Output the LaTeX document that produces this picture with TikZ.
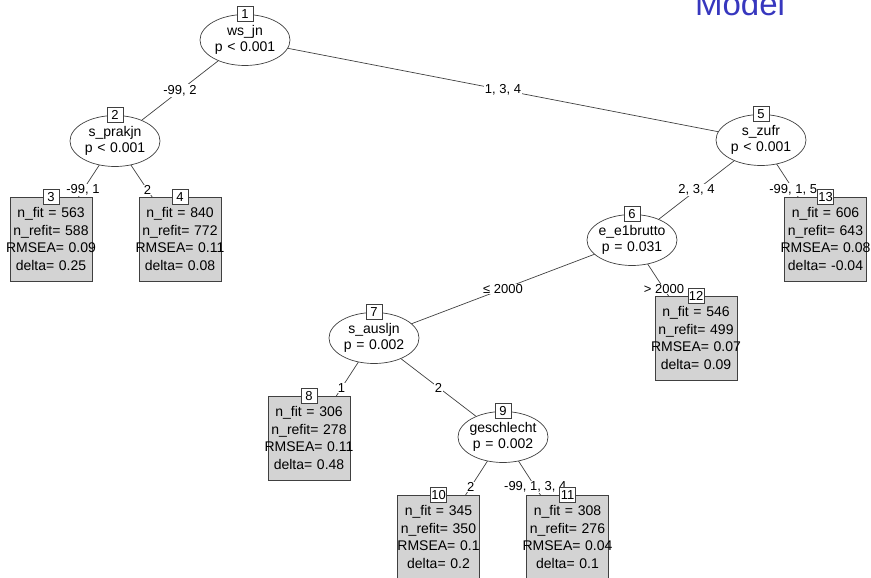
\documentclass[tikz,border=0pt]{standalone}
\usepackage{fontspec}
\setmainfont{Liberation Sans}
\usetikzlibrary{shapes.geometric}
\pgfdeclarelayer{bg}\pgfdeclarelayer{fg}\pgfsetlayers{bg,main,fg}
\definecolor{edgec}{HTML}{404040}
\definecolor{leaffill}{HTML}{D3D3D3}
\definecolor{modelblue}{RGB}{55,55,190}
\newcommand\mbx[1]{\makebox[0pt]{#1}}
\begin{document}
\begin{tikzpicture}[x=1pt,y=-1pt,
 inner/.style={ellipse,draw=edgec,fill=white,line width=0.7pt,minimum width=90pt,minimum height=51pt,inner sep=0pt,text width=1pt,align=center,font=\fontsize{14}{16}\selectfont},
 leaf/.style={rectangle,draw=edgec,fill=leaffill,line width=0.7pt,minimum width=82pt,minimum height=84pt,inner sep=0pt,text width=82pt,align=center,font=\fontsize{14}{17.5}\selectfont},
 idbox/.style={rectangle,draw=edgec,fill=white,line width=0.7pt,minimum width=16pt,minimum height=15pt,inner sep=0pt,font=\fontsize{13}{13}\selectfont},
 edge/.style={draw=edgec,line width=0.7pt},
 elab/.style={fill=white,inner sep=0.8pt,font=\fontsize{13}{13}\selectfont}]
\useasboundingbox (0,0) rectangle (871,578);

% inner nodes
\node[inner] (n1) at (245,40) {\mbx{ws\_jn}\\\mbx{p < 0.001}};
\node[inner] (n2) at (115,141) {\mbx{s\_prakjn}\\\mbx{p < 0.001}};
\node[inner] (n5) at (761,140) {\mbx{s\_zufr}\\\mbx{p < 0.001}};
\node[inner] (n6) at (632,240) {\mbx{e\_e1brutto}\\\mbx{p = 0.031}};
\node[inner] (n7) at (374,338) {\mbx{s\_ausljn}\\\mbx{p = 0.002}};
\node[inner] (n9) at (503,437) {\mbx{geschlecht}\\\mbx{p = 0.002}};

% leaves
\node[leaf] (n3) at (51,239) {\mbx{n\_fit = 563}\\\mbx{n\_refit= 588}\\\mbx{RMSEA= 0.09}\\\mbx{delta= 0.25}};
\node[leaf] (n4) at (180,239) {\mbx{n\_fit = 840}\\\mbx{n\_refit= 772}\\\mbx{RMSEA= 0.11}\\\mbx{delta= 0.08}};
\node[leaf] (n13) at (825.5,239) {\mbx{n\_fit = 606}\\\mbx{n\_refit= 643}\\\mbx{RMSEA= 0.08}\\\mbx{delta= -0.04}};
\node[leaf] (n12) at (696,338) {\mbx{n\_fit = 546}\\\mbx{n\_refit= 499}\\\mbx{RMSEA= 0.07}\\\mbx{delta= 0.09}};
\node[leaf] (n8) at (309,438) {\mbx{n\_fit = 306}\\\mbx{n\_refit= 278}\\\mbx{RMSEA= 0.11}\\\mbx{delta= 0.48}};
\node[leaf] (n10) at (438.5,537) {\mbx{n\_fit = 345}\\\mbx{n\_refit= 350}\\\mbx{RMSEA= 0.1}\\\mbx{delta= 0.2}};
\node[leaf] (n11) at (567.5,537) {\mbx{n\_fit = 308}\\\mbx{n\_refit= 276}\\\mbx{RMSEA= 0.04}\\\mbx{delta= 0.1}};

% title fragment
\node[anchor=base,inner sep=0pt,text=modelblue,font=\fontsize{33}{33}\selectfont] (title) at (740,16) {Model};

\begin{pgfonlayer}{bg}
\draw[edge] (n1.center) -- node[elab]{-99, 2} (n2.center);
\draw[edge] (n1.center) -- node[elab]{1, 3, 4} (n5.center);
\draw[edge] (n2.center) -- node[elab]{-99, 1} (n3.center);
\draw[edge] (n2.center) -- node[elab]{2} (n4.center);
\draw[edge] (n5.center) -- node[elab]{2, 3, 4} (n6.center);
\draw[edge] (n5.center) -- node[elab]{-99, 1, 5} (n13.center);
\draw[edge] (n6.center) -- node[elab]{≤ 2000} (n7.center);
\draw[edge] (n6.center) -- node[elab]{> 2000} (n12.center);
\draw[edge] (n7.center) -- node[elab]{1} (n8.center);
\draw[edge] (n7.center) -- node[elab]{2} (n9.center);
\draw[edge] (n9.center) -- node[elab]{2} (n10.center);
\draw[edge] (n9.center) -- node[elab]{-99, 1, 3, 4} (n11.center);
\end{pgfonlayer}

\begin{pgfonlayer}{fg}
\node[idbox] (id1) at (n1.north) {1};
\node[idbox] (id2) at (n2.north) {2};
\node[idbox] (id3) at (n3.north) {3};
\node[idbox] (id4) at (n4.north) {4};
\node[idbox] (id5) at (n5.north) {5};
\node[idbox] (id6) at (n6.north) {6};
\node[idbox] (id7) at (n7.north) {7};
\node[idbox] (id8) at (n8.north) {8};
\node[idbox] (id9) at (n9.north) {9};
\node[idbox] (id10) at (n10.north) {10};
\node[idbox] (id11) at (n11.north) {11};
\node[idbox] (id12) at (n12.north) {12};
\node[idbox] (id13) at (n13.north) {13};
\end{pgfonlayer}
\end{tikzpicture}
\end{document}
